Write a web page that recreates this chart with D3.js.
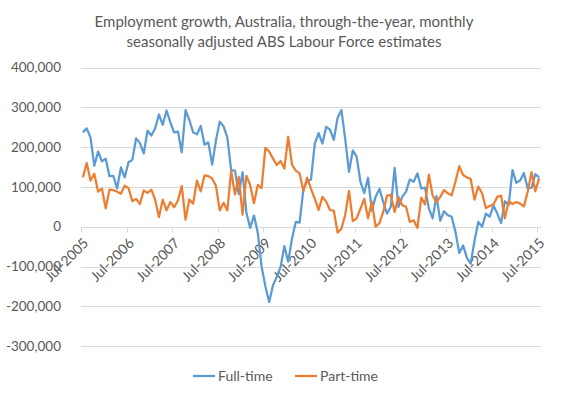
<!DOCTYPE html>
<meta charset="utf-8">
<style>
html, body {
  margin: 0;
  background: #fff;
}

text {
  font-family: Lato, "Liberation Sans", sans-serif;
  fill: #595959;
}

.grid line {
  stroke: #d9d9d9;
  stroke-width: 1px;
}

.series {
  fill: none;
  stroke-width: 2.25px;
  stroke-linejoin: round;
}
</style>

<svg></svg>

<script src="https://d3js.org/d3.v7.min.js"></script>
<script>

var titleLines = ['Employment growth, Australia, through-the-year, monthly',
  'seasonally adjusted ABS Labour Force estimates'];

// monthly, Jul-2005 to Jul-2015, thousands of persons
var fullTime = [237, 247, 224, 153, 189, 164, 171, 127, 128, 96, 149, 124,
  162, 168, 222, 210, 184, 241, 229, 247, 282, 256, 292, 262,
  237, 239, 187, 293, 268, 237, 232, 253, 206, 212, 156, 217,
  264, 252, 224, 142, 141, 82, 137, 35, -3, 28, -15, -100,
  -150, -189, -147, -126, -101, -49, -88, -30, 12, 10, 94, 115,
  119, 209, 235, 209, 251, 244, 218, 274, 293, 220, 138, 192,
  176, 113, 84, 123, 40, 75, 95, 62, 33, 50, 148, 50,
  75, 88, 119, 113, 134, 96, 98, 46, 21, 77, 15, 39,
  29, 25, -13, -66, -47, -78, -93, -36, 12, 0, 33, 25,
  53, 33, 9, 64, 55, 142, 110, 116, 135, 96, 98, 132,
  124];

var partTime = [124, 160, 116, 133, 88, 96, 46, 93, 92, 88, 83, 103,
  97, 64, 70, 57, 91, 85, 93, 68, 24, 68, 41, 62,
  49, 66, 102, 18, 68, 58, 116, 89, 129, 127, 121, 102,
  41, 60, 41, 141, 81, 125, 30, 128, 105, 59, 105, 97,
  198, 189, 171, 155, 165, 146, 226, 156, 141, 134, 90, 123,
  95, 70, 42, 75, 63, 42, 40, -15, -5, 30, 90, 14,
  21, 45, 70, 21, 63, 0, 9, 37, 78, 80, 37, 75,
  54, 50, 12, 16, -3, 73, 56, 131, 78, 62, 75, 92,
  84, 79, 113, 152, 130, 124, 120, 68, 101, 84, 47, 52,
  56, 75, 78, 21, 64, 57, 62, 58, 51, 88, 137, 89,
  122];

var yTicks = [-300000, -200000, -100000, 0, 100000, 200000, 300000, 400000];
var xTickMonths = d3.range(0, 121, 12);
var xTickLabels = ['Jul-2005', 'Jul-2006', 'Jul-2007', 'Jul-2008', 'Jul-2009', 'Jul-2010',
  'Jul-2011', 'Jul-2012', 'Jul-2013', 'Jul-2014', 'Jul-2015'];

var seriesNames = ['Full-time', 'Part-time'];
var colors = ['#5b9bd5', '#ed7d31'];

var width = 568, height = 398;

var svg = d3.select('svg')
  .attr('width', width)
  .attr('height', height);

// categories sit between tick marks
var x = d3.scaleLinear()
  .domain([-0.5, fullTime.length - 0.5])
  .range([81, 541]);

var y = d3.scaleLinear()
  .domain([-300000, 400000])
  .range([346.1, 67.5]);

svg.selectAll('.title')
  .data(titleLines)
  .enter().append('text')
  .attr('class', 'title')
  .attr('x', 284)
  .attr('y', function (d, i) { return 27 + i * 20; })
  .attr('text-anchor', 'middle')
  .style('font-size', '15px')
  .text(function (d) { return d; });

// gridlines
svg.append('g')
  .attr('class', 'grid')
  .selectAll('line').data(yTicks)
  .enter().append('line')
  .attr('x1', x.range()[0])
  .attr('x2', x.range()[1])
  .attr('y1', function (d) { return Math.round(y(d)) + 0.5; })
  .attr('y2', function (d) { return Math.round(y(d)) + 0.5; });

svg.append('g')
  .selectAll('text').data(yTicks)
  .enter().append('text')
  .attr('x', 61)
  .attr('y', function (d) { return y(d); })
  .attr('dy', '0.35em')
  .attr('text-anchor', 'end')
  .style('font-size', '13.5px')
  .text(function (d) { return d3.format(',')(d).replace('−', '-'); });

// x tick marks on the zero line
var zeroY = Math.round(y(0)) + 0.5;
svg.append('g')
  .attr('class', 'grid')
  .selectAll('line').data(xTickMonths)
  .enter().append('line')
  .attr('x1', function (d) { return Math.round(x(d - 0.5)) + 0.5; })
  .attr('x2', function (d) { return Math.round(x(d - 0.5)) + 0.5; })
  .attr('y1', zeroY)
  .attr('y2', zeroY + 5);

svg.append('g')
  .selectAll('text').data(xTickMonths)
  .enter().append('text')
  .attr('transform', function (d) {
    return 'translate(' + (x(d) + 3) + ',' + (zeroY + 13) + ') rotate(-45)';
  })
  .attr('text-anchor', 'end')
  .attr('dy', '0.35em')
  .style('font-size', '14px')
  .text(function (d, i) { return xTickLabels[i]; });

var line = d3.line()
  .x(function (d, i) { return x(i); })
  .y(function (d) { return y(d * 1000); });

svg.selectAll('.series')
  .data([fullTime, partTime])
  .enter().append('path')
  .attr('class', 'series')
  .attr('stroke', function (d, i) { return colors[i]; })
  .attr('d', line);

// legend
var legend = svg.append('g')
  .selectAll('g').data(seriesNames)
  .enter().append('g')
  .attr('transform', function (d, i) { return 'translate(' + (193 + i * 102) + ',376)'; });

legend.append('line')
  .attr('x1', 0)
  .attr('x2', 22)
  .attr('stroke', function (d, i) { return colors[i]; })
  .attr('stroke-width', 2.25);

legend.append('text')
  .attr('x', 25)
  .attr('dy', '0.35em')
  .style('font-size', '14px')
  .text(function (d) { return d; });
</script>
